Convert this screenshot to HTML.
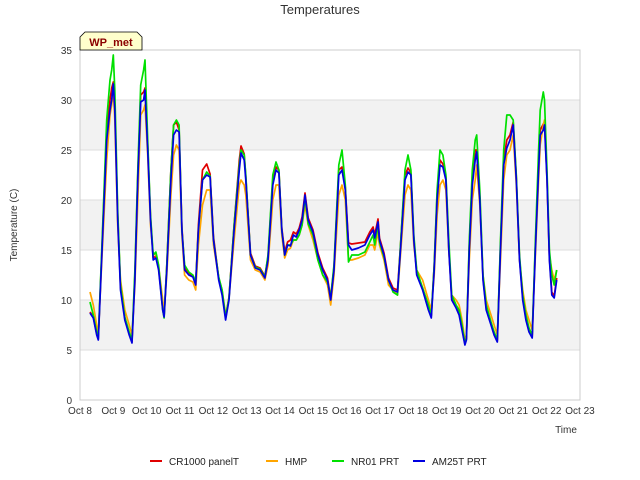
<!DOCTYPE html>
<html><head><meta charset="utf-8"><style>
body{margin:0;background:#fff;font-family:"Liberation Sans",sans-serif}
</style></head><body>
<svg id="chart" width="640" height="480" style="display:block">
<text x="320" y="14" text-anchor="middle" font-size="13" fill="#333">Temperatures</text>
<g id="bands"></g>
<g id="grid"></g>
<rect x="80" y="50" width="500" height="350" fill="none" stroke="#ccc"/>
<g id="yticks"></g><g id="xticks"></g>
<g id="series"></g>
<text transform="translate(17,225) rotate(-90)" text-anchor="middle" font-size="10" fill="#333">Temperature (C)</text>
<text x="566" y="433" text-anchor="middle" font-size="10" fill="#333">Time</text>
<g>
<path d="M80,50 L80,37 L85,32 L137,32 L142,37 L142,50 Z" fill="#ffffcc" stroke="#000" stroke-width="0.8"/>
<text x="111" y="46" text-anchor="middle" font-size="11" font-weight="bold" fill="#8b0000">WP_met</text>
</g>
<g id="legend"></g>
</svg>
<script>
const yTicks=[0,5,10,15,20,25,30,35];
const xTickLabels=["Oct 8","Oct 9","Oct 10","Oct 11","Oct 12","Oct 13","Oct 14","Oct 15","Oct 16","Oct 17","Oct 18","Oct 19","Oct 20","Oct 21","Oct 22","Oct 23"];
const seriesNames=["CR1000 panelT","HMP","NR01 PRT","AM25T PRT"];
const seriesColors=["#e00000","#ffa500","#00e000","#0000e0"];
const times=[0.3,0.4,0.5,0.55,0.7,0.8,0.9,0.95,1.0,1.043,1.13,1.216,1.345,1.475,1.561,1.648,1.734,1.82,1.907,1.95,2.032,2.114,2.195,2.277,2.359,2.482,2.523,2.605,2.727,2.809,2.891,2.974,3.057,3.139,3.263,3.387,3.47,3.552,3.676,3.8,3.903,4.006,4.161,4.264,4.367,4.47,4.624,4.779,4.83,4.925,4.973,5.116,5.26,5.403,5.546,5.641,5.785,5.88,5.967,6.054,6.141,6.228,6.315,6.402,6.489,6.576,6.663,6.75,6.847,6.991,7.136,7.281,7.426,7.522,7.619,7.763,7.86,7.958,8.056,8.155,8.351,8.547,8.694,8.793,8.842,8.94,8.985,9.12,9.255,9.39,9.525,9.615,9.75,9.84,9.927,10.015,10.102,10.277,10.451,10.538,10.625,10.713,10.8,10.888,10.976,11.064,11.152,11.284,11.372,11.46,11.548,11.592,11.68,11.768,11.856,11.9,11.995,12.09,12.186,12.329,12.424,12.519,12.614,12.71,12.805,12.9,12.995,13.09,13.186,13.281,13.376,13.471,13.566,13.662,13.757,13.805,13.9,13.936,14.009,14.082,14.155,14.227,14.3];
const blue=[8.7,8.2,6.5,6.0,18,26,29,30,31.6,29,18,11,8,6.5,5.7,12,22,29.8,30,31,25,18,14,14.2,13,9,8.3,13,22,26.5,27,26.8,17,13,12.5,12.3,11.5,17,22,22.5,22.3,16,12,10.5,8,10,17,23,24.7,24,22,14.5,13.2,13,12.2,14,21.5,23,22.7,17,14.5,15.5,15.4,16.5,16.3,17,18,20.5,18,16.8,14.5,13,12,10,13,22.5,23,21,15.5,15,15.2,15.5,16.5,17,16.2,17.8,16,14.5,12,11,10.8,15,22,22.8,22.5,16,12.5,11,9,8.2,13,20,23.5,23.3,22,15,10,9.2,8.5,7,5.5,6,15,21.5,24,24.8,20,12,9,7.5,6.5,5.8,15,23.5,25.2,26,27.5,22,14,10,8,6.8,6.2,15,23,26.5,27,27.5,22,14,10.5,10.2,12];
const red=[8.8,8.3,6.6,6.1,18.5,27,30,31.2,31.8,29.5,18.5,11.3,8.2,6.6,5.8,12.5,22.5,30.5,30.8,31.2,25.5,18.3,14.2,14.4,13.2,9.2,8.4,13.5,23,27.5,27.8,27,17.3,13.2,12.7,12.4,11.7,17.5,23,23.6,22.6,16.3,12.2,10.7,8.2,10.3,17.5,24,25.4,24.6,22.3,14.7,13.4,13.2,12.4,14.3,22,23.3,23,17.2,14.8,15.8,16.0,16.8,16.6,17.2,18.3,20.7,18.2,17,14.7,13.2,12.2,10.2,13.3,23,23.3,21.3,15.7,15.6,15.7,15.8,16.8,17.3,16.5,18.1,16.2,14.7,12.2,11.2,11,15.5,22.5,23.2,22.7,16.2,12.7,11.2,9.2,8.4,13.5,20.5,24,23.6,22.3,15.2,10.2,9.4,8.7,7.2,5.6,6.1,15.5,22,25,25,20.3,12.2,9.2,7.7,6.6,5.9,15.5,24,26,26.5,27.8,22.3,14.2,10.2,8.2,7,6.3,15.5,23.5,27,27.6,27.8,22.3,14.2,10.8,10.4,12.2];
const orange=[10.8,9.5,7.5,6.6,17,24,28.5,29.5,31,28,17.5,12,9,7.5,6.5,11.5,20,28.5,29,29.5,24.5,17.5,14.5,14.6,13.4,10,8.8,12.5,20.5,24.5,25.5,25,16.5,12.5,12,11.8,11,15.5,19.5,21,21,15.5,12.2,11,8.5,10.2,16,21.5,22,21.5,20.5,14,13,12.8,12,13.5,20,21.5,21.5,16.5,14.2,15,15.2,16,16,16.5,17.5,19.5,17.5,16,14,12.5,11.5,9.5,12.5,20.5,21.5,20,14,14,14.2,14.5,15.5,15.5,15,16.8,15.5,14,11.5,11,10.5,14.5,20.5,21.5,21,15.5,13,12,10,9,12.5,18.5,21.5,22,21,15,10.5,10,9.5,8,6,6.5,14,20,22,23.5,19.5,12.5,10,8.5,7.5,6.5,14,22,24.5,25,26.5,21.5,14,11,9,8,7,14.5,22,25.5,27.5,28,22,14.5,13,12,13];
const green=[9.8,8.5,6.8,6.2,19,28,32,33,34.5,31,19,11.5,8.3,6.8,6,13,23,31.5,33,34,26,18.5,14.5,14.8,13.5,9,8.2,13.5,23,27.5,28,27.5,17,13.5,12.8,12.5,11.8,17,22,22.8,22.4,16,12.3,11,8.3,10.2,17.5,23.5,25,24.5,22.5,14.5,13.3,13.1,12.3,14.5,22.5,23.8,23,17,14.5,15.5,15.5,16,16,16.5,17.5,20.3,17.6,16.5,14,12.5,11.8,10.3,13.5,23.5,25,21.5,13.8,14.5,14.5,14.8,15.8,16.5,15.5,17.5,15.8,14.3,12,10.8,10.5,15.5,23,24.5,23,16.5,13,11.2,9.5,8.5,13.5,21,25,24.5,22.5,16,10.5,9.5,9,7.5,5.7,6.2,16,23,26,26.5,21,12.5,9.5,7.8,6.8,6,16,25,28.5,28.5,28,22.5,14.5,10.5,8.5,7.2,6.5,16,25,29,30.8,30,23,15,12.5,11.5,13];
const allSeries=[red,orange,green,blue];
const NS="http://www.w3.org/2000/svg";
const X0=80,X1=580,Y0=400,Y1=50;
function xScale(d){return X0+(d/15)*(X1-X0);}
function yScale(v){return Y0-(v/35)*(Y0-Y1);}
function mk(tag,attrs,parent){const e=document.createElementNS(NS,tag);for(const k in attrs)e.setAttribute(k,attrs[k]);parent.appendChild(e);return e;}
const bands=document.getElementById('bands'),grid=document.getElementById('grid'),yt=document.getElementById('yticks'),xt=document.getElementById('xticks');
for(let i=0;i<yTicks.length-1;i++){
  if(i%2===1){const r=mk('rect',{x:X0,y:yScale(yTicks[i+1]),width:X1-X0,height:yScale(yTicks[i])-yScale(yTicks[i+1]),fill:'#f2f2f2'},bands);
  
  }
}
yTicks.forEach(v=>{
  const l=mk('line',{x1:X0,x2:X1,y1:yScale(v),y2:yScale(v),stroke:'#ddd'},grid);
  
  
  const t=mk('text',{x:X0-8,y:yScale(v)+4,'text-anchor':'end','font-size':'10',fill:'#333'},yt);
  t.textContent=v;
  
  
});
xTickLabels.forEach((s,i)=>{
  const t=mk('text',{x:xScale(i),y:414,'text-anchor':'middle','font-size':'10',fill:'#333'},xt);
  t.textContent=s;
  
  
});
const sg=document.getElementById('series');
allSeries.forEach((arr,si)=>{
  const d=arr.map((v,i)=>(i?'L':'M')+xScale(times[i]).toFixed(1)+','+yScale(v).toFixed(1)).join(' ');
  const p=mk('path',{d:d,fill:'none',stroke:seriesColors[si],'stroke-width':'1.7','stroke-linejoin':'round'},sg);
  
  
});
const lg=document.getElementById('legend');
const lx=[150,266,332,413];
seriesNames.forEach((s,i)=>{
  const g=mk('g',{},lg);
  
  
  mk('line',{x1:lx[i],x2:lx[i]+12,y1:461,y2:461,stroke:seriesColors[i],'stroke-width':'2'},g);
  const t=mk('text',{x:lx[i]+19,y:465,'font-size':'10',fill:'#222'},g);
  t.textContent=s;
});
</script>
</body></html>
